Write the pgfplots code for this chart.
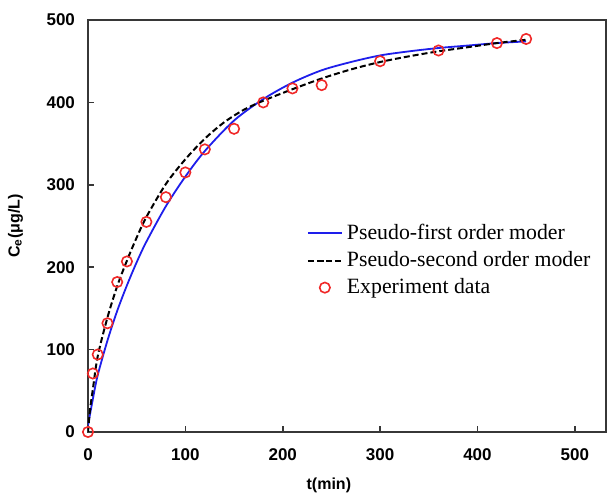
\documentclass[border=0pt]{standalone}
\usepackage{fontspec}
\setmainfont{Liberation Sans}
\newfontfamily\serif{Liberation Serif}
\usepackage{pgfplots}
\pgfplotsset{compat=1.18}
\definecolor{myred}{RGB}{240,40,40}
\definecolor{myblue}{RGB}{30,30,235}
\definecolor{axgray}{RGB}{55,55,55}
\begin{document}
\begin{tikzpicture}
\begin{axis}[
  scale only axis, width=259pt, height=206pt,
  xmin=0, xmax=532, ymin=0, ymax=500,
  xtick={0,100,200,300,400,500}, ytick={0,100,200,300,400,500},
  tick align=inside, xtick pos=bottom, ytick pos=left,
  major tick length=3pt,
  axis line style={axgray, line width=1pt},
  tick style={axgray, line width=0.8pt},
  /pgf/number format/assume math mode=true,
  ticklabel style={font=\fontsize{8.5}{10}\selectfont\bfseries},
  yticklabel style={xshift=-3pt},
  xticklabel style={yshift=-5pt},
  xlabel={t(min)}, ylabel={C\textsubscript{e}(μg/L)},
  label style={font=\fontsize{8}{10}\selectfont\bfseries},
  xlabel style={at={(axis description cs:0.465,0)}, anchor=north, yshift=-19.5pt},
  ylabel style={at={(axis description cs:0,0.5)}, anchor=south, yshift=29pt},
  legend style={at={(0.41,0.525)}, anchor=north west, draw=none, fill=none,
    font=\serif\fontsize{10.9}{13}\selectfont, row sep=0.5pt},
  legend cell align=left,
]
\addplot[myblue, line width=0.9pt, smooth] coordinates {
(0,8) (5,40) (10,69) (20,111) (30,147) (40,178) (50,206) (60,231)
(80,274) (100,310) (120,341) (150,378) (180,404) (210,424) (240,439)
(270,449) (300,457) (330,462) (360,466) (390,469) (420,472) (450,474)
};
\addlegendentry{Pseudo-first order moder}
\addplot[black, line width=1pt, dash pattern=on 3pt off 1.5pt, smooth] coordinates {
(0,0) (2,26) (5,52) (10,92) (20,139) (30,177) (40,208) (50,236) (60,261)
(80,301) (100,331) (120,356) (140,376) (160,391) (180,402) (210,416)
(240,429) (270,440) (300,449) (330,456) (360,462) (390,467) (420,472) (450,476)
};
\addlegendentry{Pseudo-second order moder}
\addplot[only marks, mark=o, mark size=2.6pt, mark options={myred, line width=0.8pt}] coordinates {
(0,0) (5,71) (10,94) (20,132) (30,182) (40,207) (60,255) (80,285) (100,315)
(120,343) (150,368) (180,400) (210,417) (240,421) (300,450) (360,463)
(420,472) (450,477)
};
\addlegendentry{Experiment data}
\end{axis}
\pgfresetboundingbox
\path ([shift={(-44pt,-32.5pt)}]current axis.south west) rectangle ([shift={(1pt,10pt)}]current axis.north east);
\end{tikzpicture}
\end{document}
